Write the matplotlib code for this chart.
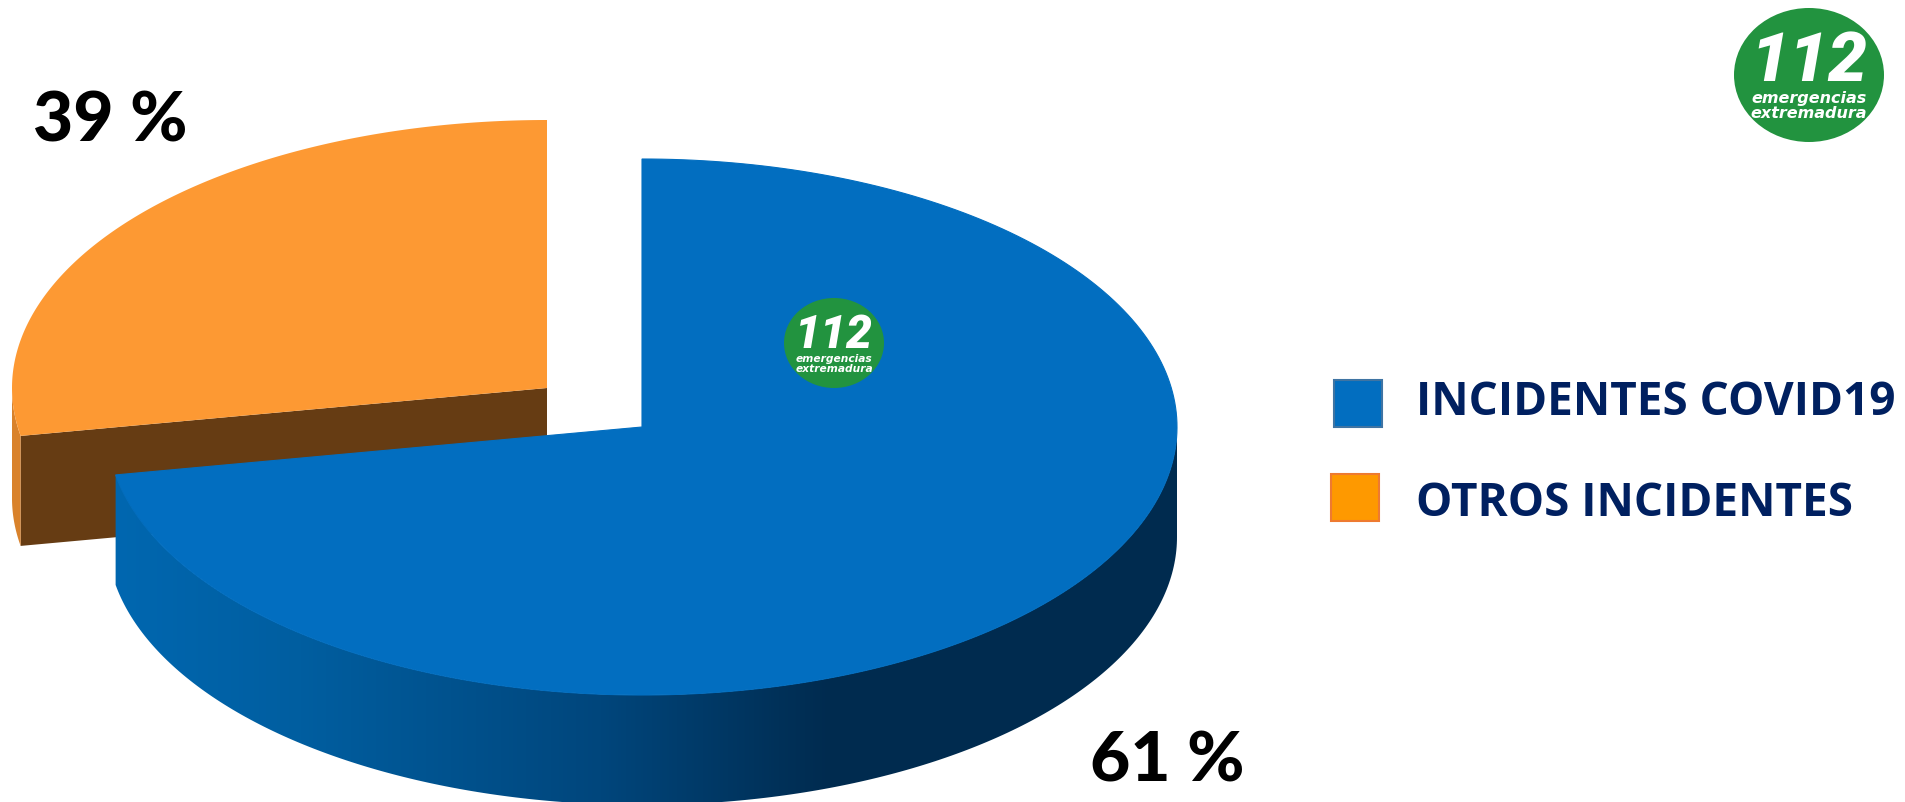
# incidentes 112 extremadura - exploded 3d pie, drawn by hand in pixel coords

import matplotlib
matplotlib.use('Agg')
import matplotlib.pyplot as plt
import numpy as np
from matplotlib.patches import Ellipse, Polygon, Rectangle

# data
labels = ['INCIDENTES COVID19', 'OTROS INCIDENTES']
shares = [61, 39]
share_text = ['61 %', '39 %']
# sweep of each slice (the picture is in perspective)
sweep_deg = [259.7, 100.3]

colors = ['#026ec0', '#fd9933']
swatch_colors = ['#026ec0', '#fe9900']
swatch_edges = ['#3f74a3', '#ee7a30']

W, H = 1906, 803
a, b, depth = 535, 268, 110
blue_c = (642, 428)
orange_c = (547, 389)

fig = plt.figure(figsize=(W / 100, H / 100), dpi=100)
ax = fig.add_axes([0, 0, 1, 1])
ax.set_xlim(0, W)
ax.set_ylim(H, 0)
ax.axis('off')


def arc(c, t0, t1, dy=0, n=240):
    t = np.radians(np.linspace(t0, t1, n))
    return np.column_stack([c[0] + a * np.cos(t), c[1] - b * np.sin(t) + dy])


# angles, 90 = top of ellipse, going counterclockwise
split = 90 + sweep_deg[1]

# orange slice: inner brown wall, small outer wall, top face
corner = arc(orange_c, split, split, n=1)[0]
ax.add_patch(Polygon([orange_c, corner, corner + [0, depth], np.array(orange_c) + [0, depth]],
                     fc='#663c13', ec='none', zorder=1))
outer = arc(orange_c, 180, split)
ax.add_patch(Polygon(np.vstack([outer, (outer + [0, depth])[::-1]]), fc='#d9822b', ec='none', zorder=1))
ax.add_patch(Polygon(np.vstack([[orange_c], arc(orange_c, 90, split)]), fc=colors[1], ec='none', zorder=2))

# blue slice: outer wall with gradient, then top face
wall = Polygon(np.vstack([arc(blue_c, split, 360), arc(blue_c, 360, split, dy=depth)]),
               fc='none', ec='none', zorder=3)
ax.add_patch(wall)
stop_x = [115, 300, 600, 830, 1177]
stop_rgb = np.array([[0, 103, 176], [0, 94, 160], [0, 70, 124], [0, 43, 79], [0, 43, 79]]) / 255
xs = np.arange(115, 1178)
grad = np.column_stack([np.interp(xs, stop_x, stop_rgb[:, i]) for i in range(3)])[np.newaxis, :, :]
im = ax.imshow(grad, extent=[115, 1178, H, 0], aspect='auto', zorder=3)
im.set_clip_path(wall)
ax.set_xlim(0, W)
ax.set_ylim(H, 0)
ax.add_patch(Polygon(np.vstack([[blue_c], arc(blue_c, 90, split - 360)]), fc=colors[0], ec=colors[0], lw=0.8,
                     zorder=4))


def logo(cx, cy, rx, ry, z=5):
    ax.add_patch(Ellipse((cx, cy), 2 * rx, 2 * ry, fc='#22933f', ec='none', zorder=z))
    k = rx / 75
    ax.text(cx, cy - 14 * k, '112', color='white', fontsize=50 * k, family='Roboto', weight='black',
            style='italic', ha='center', va='center', zorder=z + 1)
    ax.text(cx, cy + 22 * k, 'emergencias', color='white', fontsize=11.5 * k, family='DejaVu Sans',
            weight='bold', style='italic', ha='center', va='center', zorder=z + 1)
    ax.text(cx, cy + 37 * k, 'extremadura', color='white', fontsize=11.5 * k, family='DejaVu Sans',
            weight='bold', style='italic', ha='center', va='center', zorder=z + 1)


logo(834, 344, 50, 45)
logo(1809, 76, 75, 67)

# value labels
ax.text(33, 142, share_text[1], fontsize=50, family='Lato', weight='black', color='black', va='baseline', zorder=6)
ax.text(1090, 782, share_text[0], fontsize=50, family='Lato', weight='black', color='black', va='baseline', zorder=6)

# legend
ax.add_patch(Rectangle((1334, 381), 48, 47, fc=swatch_colors[0], ec=swatch_edges[0], lw=1.5))
ax.add_patch(Rectangle((1331, 475), 48, 47, fc=swatch_colors[1], ec=swatch_edges[1], lw=1.5))
ax.text(1416, 415, labels[0], fontsize=33, family='Open Sans', weight='bold', color='#002060', va='baseline')
ax.text(1416, 516, labels[1], fontsize=33, family='Open Sans', weight='bold', color='#002060', va='baseline')

fig.savefig('out.png', dpi=100)
